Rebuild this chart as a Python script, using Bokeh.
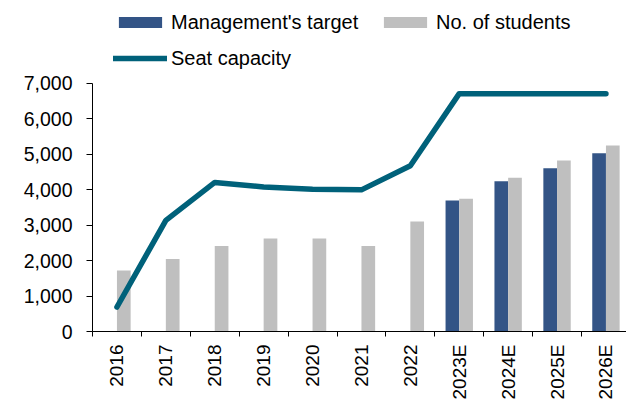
from math import pi

from bokeh.plotting import figure
from bokeh.models import (ColumnDataSource, Range1d, FixedTicker, NumeralTickFormatter,
                          Legend, LegendItem)
from bokeh.transform import dodge
from bokeh.embed import file_html
from bokeh.resources import INLINE

# ---------------- data ----------------
years = ["2016", "2017", "2018", "2019", "2020", "2021", "2022",
         "2023E", "2024E", "2025E", "2026E"]
students = [1720, 2040, 2410, 2620, 2620, 2410, 3100, 3740, 4330, 4820, 5240]
target_years = ["2023E", "2024E", "2025E", "2026E"]
target = [3690, 4230, 4600, 5020]
seat_capacity = [690, 3130, 4200, 4070, 4010, 3990, 4670, 6700, 6700, 6700, 6700]
y_ticks = [0, 1000, 2000, 3000, 4000, 5000, 6000, 7000]

# ---------------- style / layout ----------------
FONT = "Liberation Sans"
C_TARGET = "#335486"
C_STUD = "#BFBFBF"
C_SEAT = "#00617A"
BAR_W = 0.28
OFF = 0.14
W, H = 626, 402
BORDER_L, BORDER_B = 92, 69
FRAME_H = H - BORDER_B                 # frame spans the whole height above the x axis
PX_PER_7000 = 250                       # axis 0..7000 spans 250 px
Y_TOP = y_ticks[-1] * FRAME_H / PX_PER_7000   # room above the axis for the legend
CAT_PX = 48.9
X_END = -0.5 + (W - BORDER_L) / CAT_PX

idx = list(range(len(years)))
t_idx = [years.index(y) for y in target_years]

p = figure(width=W, height=H, output_backend="svg", toolbar_location=None,
           x_range=Range1d(-0.5, X_END), y_range=Range1d(0, Y_TOP),
           min_border_left=BORDER_L, min_border_right=0, min_border_top=0,
           min_border_bottom=BORDER_B)
p.outline_line_color = None
p.grid.visible = False
p.background_fill_color = "white"
p.border_fill_color = "white"

src_stud = ColumnDataSource(dict(x=idx, top=students))
src_tgt = ColumnDataSource(dict(x=t_idx, top=target))
src_seat = ColumnDataSource(dict(x=idx, y=seat_capacity))

r_t = p.vbar(x=dodge("x", -OFF), top="top", width=BAR_W, source=src_tgt,
             fill_color=C_TARGET, line_color=None)
r_s = p.vbar(x=dodge("x", OFF), top="top", width=BAR_W, source=src_stud,
             fill_color=C_STUD, line_color=None)
r_l = p.line(x="x", y="y", source=src_seat, line_color=C_SEAT, line_width=5.5,
             line_cap="round", line_join="round")

# x axis: labels at category centres, tick marks at category boundaries
xa = p.xaxis[0]
xa.ticker = FixedTicker(ticks=idx, minor_ticks=[i - 0.5 for i in range(len(years) + 1)])
xa.major_label_overrides = {i: y for i, y in zip(idx, years)}
xa.major_label_orientation = pi / 2
xa.major_tick_out = 5
xa.major_tick_in = 0
xa.major_tick_line_color = None
xa.minor_tick_out = 5
xa.minor_tick_in = 0
xa.minor_tick_line_color = "black"
xa.major_label_standoff = 8
xa.major_label_text_font = FONT
xa.major_label_text_font_size = "19px"
xa.major_label_text_color = "black"
xa.axis_line_color = "black"

ya = p.yaxis[0]
ya.ticker = FixedTicker(ticks=y_ticks)
ya.bounds = (y_ticks[0], y_ticks[-1])
ya.formatter = NumeralTickFormatter(format="0,0")
ya.major_tick_out = 6
ya.major_tick_in = 0
ya.minor_tick_line_color = None
ya.major_label_standoff = 14
ya.major_label_text_font = FONT
ya.major_label_text_font_size = "19.5px"
ya.major_label_text_color = "black"
ya.axis_line_color = "black"

legend = Legend(items=[LegendItem(label="Management's target", renderers=[r_t]),
                       LegendItem(label="No. of students", renderers=[r_s]),
                       LegendItem(label="Seat capacity", renderers=[r_l])],
                location=(21, 260), orientation="horizontal", ncols=2,
                padding=0, spacing=10, margin=0,
                glyph_width=54, glyph_height=14, label_height=26, label_width=197,
                label_standoff=4, border_line_color=None, background_fill_alpha=0,
                label_text_font=FONT, label_text_font_size="20px",
                label_text_color="black")
p.add_layout(legend)

open("out.html", "w").write(file_html(p, INLINE))
